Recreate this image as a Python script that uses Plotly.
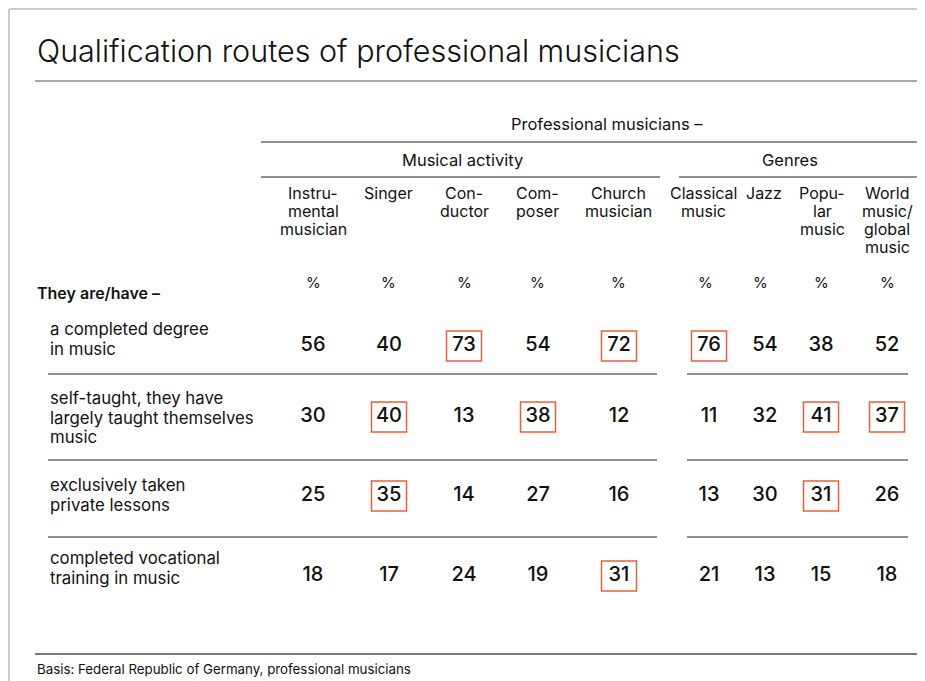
import plotly.graph_objects as go

# ---- data ----
title = "Qualification routes of professional musicians"
super_header = "Professional musicians –"
groups = ["Musical activity", "Genres"]
columns = ["Instru-<br>mental<br>musician", "Singer", "Con-<br>ductor", "Com-<br>poser",
           "Church<br>musician", "Classical<br>music", "Jazz", "Popu-<br>lar<br>music",
           "World<br>music/<br>global<br>music"]
stub_header = "They are/have –"
row_labels = ["a completed degree<br>in music",
              "self-taught, they have<br>largely taught themselves<br>music",
              "exclusively taken<br>private lessons",
              "completed vocational<br>training in music"]
degree = [56, 40, 73, 54, 72, 76, 54, 38, 52]
self_taught = [30, 40, 13, 38, 12, 11, 32, 41, 37]
private = [25, 35, 14, 27, 16, 13, 30, 31, 26]
vocational = [18, 17, 24, 19, 31, 21, 13, 15, 18]
highlight = [
    [0, 0, 1, 0, 1, 1, 0, 0, 0],
    [0, 1, 0, 1, 0, 0, 0, 1, 1],
    [0, 1, 0, 0, 0, 0, 0, 1, 0],
    [0, 0, 0, 0, 1, 0, 0, 0, 0],
]
footnote = "Basis: Federal Republic of Germany, professional musicians"

# ---- layout (window pixel coords, y grows downward) ----
col_x = [313, 389, 464, 538, 619, 709, 765, 821, 887]
pct_x = [313, 388, 464, 537, 618, 705, 760, 821, 887]
head_x = [313, 388, 464, 537, 618, 703, 764, 822, 887]
row_y = [346, 417, 496, 576]
label_top = [329, 398, 485, 558]
FONT = "Inter"
INK = "#111111"
RED = "#e8603c"
OFF = 8  # page body margin

values = [degree, self_taught, private, vocational]

fig = go.Figure()
shapes = []
annotations = []


def hline(y, x0, x1, color="#222222", width=1):
    shapes.append(dict(type="line", xref="x", yref="y", x0=x0, x1=x1, y0=y, y1=y,
                       line=dict(color=color, width=width)))


def edge_line(y, x0, color, width=1):
    # runs to the right edge of the page
    shapes.append(dict(type="line", xref="x", yref="y", x0=x0, x1=940, y0=y, y1=y,
                       line=dict(color=color, width=width)))


def text_lines(txt, x, y0, step, size, anchor="center", weight=400):
    for i, part in enumerate(txt.split("<br>")):
        annotations.append(dict(x=x, y=y0 + i * step, xref="x", yref="y", text=part,
                                showarrow=False, xanchor=anchor, yanchor="middle",
                                font=dict(family=FONT, size=size, color=INK, weight=weight)))


# frame and rules
edge_line(9, 9, "#999999")
shapes.append(dict(type="line", xref="x", yref="y", x0=9, x1=9, y0=9, y1=700, line=dict(color="#999999", width=1)))
edge_line(81, 35, "#555555")
hline(142, 261, 919)
hline(177, 261, 660)
hline(177, 679, 919)
for y in [374, 460, 537]:
    hline(y, 48, 657)
    hline(y, 687, 908)
edge_line(654, 35, "#777777", 2)

# headings
annotations.append(dict(x=35, y=50, xref="x", yref="y", text=title, showarrow=False,
                        xanchor="left", yanchor="middle",
                        font=dict(family=FONT, size=30.5, color=INK, weight=300)))
text_lines(super_header, 607, 124, 18, 16.5)
text_lines(groups[0], 462, 160, 18, 16.5)
text_lines(groups[1], 790, 160, 18, 16.5)
for x, c in zip(head_x, columns):
    text_lines(c, x, 193, 18, 16)
for x in pct_x:
    text_lines("%", x, 282, 18, 15)
text_lines(stub_header, 35, 293, 18, 16, anchor="left", weight=600)
for y, lab in zip(label_top, row_labels):
    text_lines(lab, 48, y, 19.5, 16.8, anchor="left")
annotations.append(dict(x=35, y=669, xref="x", yref="y", text=footnote, showarrow=False,
                        xanchor="left", yanchor="middle",
                        font=dict(family=FONT, size=13.3, color=INK)))

# values
xs, ys, ts = [], [], []
for r, row in enumerate(values):
    for c, v in enumerate(row):
        xs.append(col_x[c])
        ys.append(row_y[r])
        ts.append(str(v))
        if highlight[r][c]:
            shapes.append(dict(type="rect", xref="x", yref="y",
                               x0=col_x[c] - 17.5, x1=col_x[c] + 17.5,
                               y0=row_y[r] - 15, y1=row_y[r] + 15,
                               line=dict(color=RED, width=1.5)))

fig.add_trace(go.Scatter(x=xs, y=ys, text=ts, mode="text", hoverinfo="skip",
                         textposition="middle center",
                         textfont=dict(family=FONT, size=20, color=INK, weight=500)))

fig.update_layout(
    width=925 - OFF, height=681 - OFF,
    margin=dict(l=0, r=0, t=0, b=0),
    paper_bgcolor="white", plot_bgcolor="white",
    xaxis=dict(range=[OFF, 925], visible=False, fixedrange=True),
    yaxis=dict(range=[681, OFF], visible=False, fixedrange=True),
    showlegend=False,
    shapes=shapes,
    annotations=annotations,
)

fig.write_html("out.html")
